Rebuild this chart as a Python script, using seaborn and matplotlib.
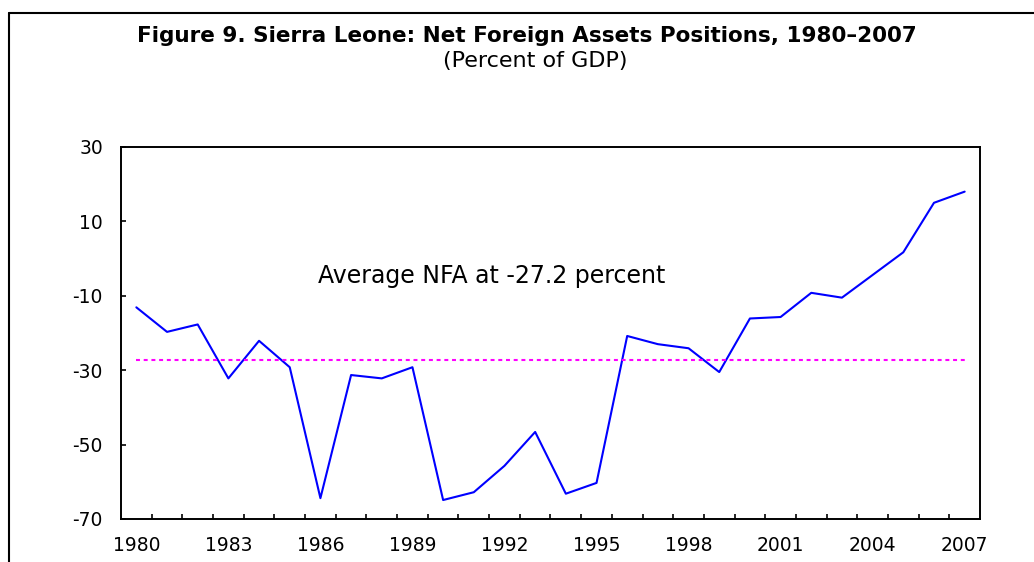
import numpy as np
import matplotlib
matplotlib.use("Agg")
import matplotlib.pyplot as plt
from matplotlib.lines import Line2D
from matplotlib.ticker import FixedLocator
import seaborn as sns

# Net foreign assets, percent of GDP
years = list(range(1980, 2008))
nfa = [-13.1, -19.7, -17.7, -32.2, -22.1, -29.2, -64.4, -31.3, -32.2, -29.2,
       -64.9, -62.8, -55.7, -46.6, -63.2, -60.3, -20.8, -23.0, -24.1, -30.5,
       -16.1, -15.7, -9.2, -10.5, -4.4, 1.7, 15.0, 18.0]
avg_nfa = -27.2
year_labels = list(range(1980, 2008, 3))
y_ticks = [30, 10, -10, -30, -50, -70]

sns.set_style("white")
plt.rcParams['font.family'] = ['DejaVu Sans']
plt.rcParams['text.color'] = 'black'

fig = plt.figure(figsize=(10.34, 5.62), dpi=100)
ax = fig.add_axes([121 / 1034, 1 - 519 / 562, (980 - 121) / 1034, (519 - 147) / 562])

sns.lineplot(x=years, y=nfa, ax=ax, color='#0000FF', linewidth=1.5)
sns.lineplot(x=[years[0], years[-1]], y=[avg_nfa, avg_nfa], ax=ax,
             color='#FF00FF', linewidth=1.5)
ax.lines[-1].set_dashes((1.9, 1.8))

ax.set_xlim(years[0] - 0.5, years[-1] + 0.5)
ax.set_ylim(-70, 30)
ax.set_yticks(y_ticks)
ax.set_yticklabels([str(v) for v in y_ticks])
ax.set_xticks(year_labels)
ax.set_xticklabels([str(y) for y in year_labels])
ax.xaxis.set_minor_locator(FixedLocator([y + 0.5 for y in years[:-1]]))

ax.tick_params(axis='x', which='major', length=0, pad=12, labelsize=13.5, colors='black')
ax.tick_params(axis='x', which='minor', direction='in', length=3.6, width=1.2,
               bottom=True, color='black')
ax.tick_params(axis='y', which='major', direction='in', length=3.6, width=1.2,
               left=True, pad=13, labelsize=13.5, colors='black')

for side in ['top', 'right', 'bottom', 'left']:
    ax.spines[side].set_visible(True)
    ax.spines[side].set_color('black')
    ax.spines[side].set_linewidth(1.4)

ax.set_xlabel('')
ax.set_ylabel('')

ax.text(492 / 1034, 1 - 276 / 562, 'Average NFA at -27.2 percent',
        transform=fig.transFigure, ha='center', va='center', fontsize=17, color='black')

fig.text(527 / 1034, 1 - 36 / 562,
         'Figure 9. Sierra Leone: Net Foreign Assets Positions, 1980\u20132007',
         ha='center', va='center', fontsize=15.5, fontweight='bold', color='black')
fig.text(535 / 1034, 1 - 61 / 562, '(Percent of GDP)',
         ha='center', va='center', fontsize=16, color='black')

# outer frame (top and left edges)
fy = 1 - 12.5 / 562
fx = 9 / 1034
fig.add_artist(Line2D([fx, 1], [fy, fy], transform=fig.transFigure, color='black', linewidth=1.5))
fig.add_artist(Line2D([fx, fx], [0, fy], transform=fig.transFigure, color='black', linewidth=1.5))

fig.savefig('out.png', dpi=100, facecolor='white')
